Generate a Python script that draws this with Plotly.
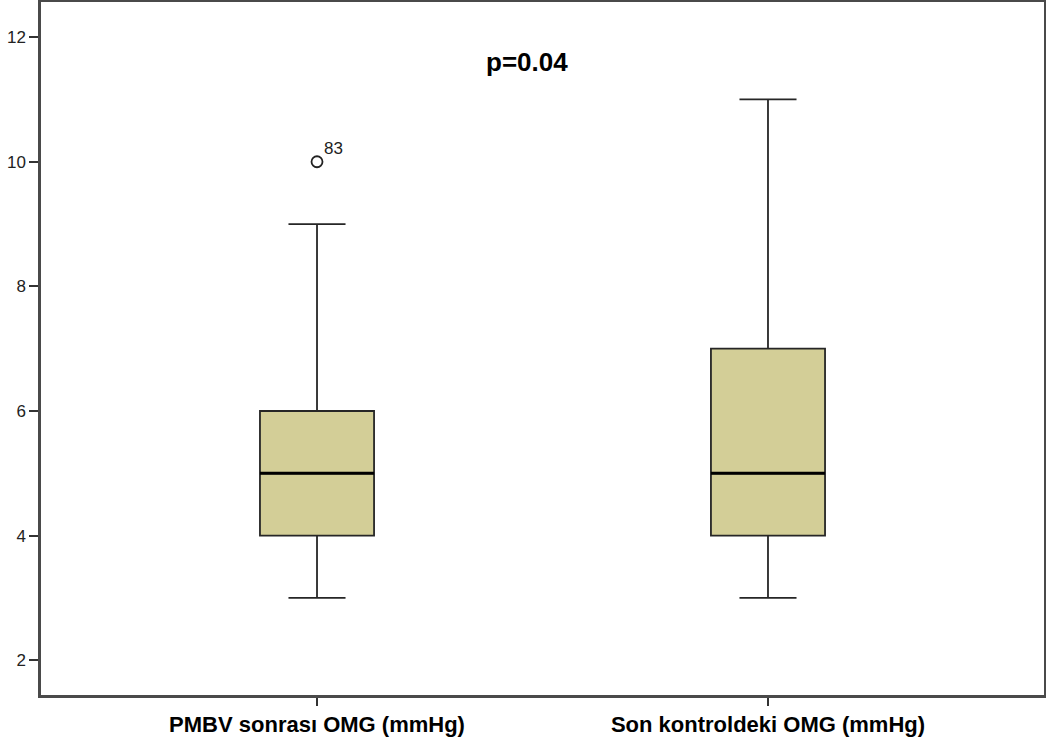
import plotly.graph_objects as go

categories = ["PMBV sonrası OMG (mmHg)", "Son kontroldeki OMG (mmHg)"]
q1 = [4, 4]
median = [5, 5]
q3 = [6, 7]
lower = [3, 3]
upper = [9, 11]
outlier_values = [10]
outlier_labels = ["83"]
outlier_group = [0]
y_ticks = [2, 4, 6, 8, 10, 12]
annotation_text = "p=0.04"

xpos = list(range(len(categories)))
box_w = 0.253
FONT = "Liberation Sans, Arial, sans-serif"

fig = go.Figure()
fig.add_trace(go.Box(
    x=xpos, q1=q1, median=median, q3=q3, lowerfence=lower, upperfence=upper,
    width=box_w, whiskerwidth=0.5, fillcolor="#D3CE97",
    line=dict(color="#262626", width=1.8), boxpoints=False, showlegend=False,
    hoverinfo="skip",
))
# Thicker black median lines
for i, m in enumerate(median):
    fig.add_trace(go.Scatter(
        x=[xpos[i] - box_w / 2, xpos[i] + box_w / 2], y=[m, m], mode="lines",
        line=dict(color="black", width=3), showlegend=False, hoverinfo="skip",
    ))
# Outlier
fig.add_trace(go.Scatter(
    x=[xpos[g] for g in outlier_group], y=outlier_values, mode="markers",
    marker=dict(symbol="circle-open", size=11, color="#222222", line=dict(width=1.8)),
    showlegend=False, hoverinfo="skip",
))
for g, v, lab in zip(outlier_group, outlier_values, outlier_labels):
    fig.add_annotation(
        x=xpos[g], y=v, text=lab, showarrow=False, xanchor="left", yanchor="bottom",
        xshift=5, yshift=2, font=dict(family=FONT, size=17, color="#222222"),
    )

fig.add_annotation(
    x=0.485, xref="paper", y=11.6, yref="y", text="<b>" + annotation_text + "</b>",
    showarrow=False, font=dict(family=FONT, size=26, color="black"),
)

fig.update_layout(
    width=1046, height=740,
    margin=dict(l=41, r=2, t=2, b=45),
    plot_bgcolor="white", paper_bgcolor="white",
    font=dict(family=FONT, color="#222222"),
)
fig.update_xaxes(
    range=[-0.612, 1.612], tickvals=xpos,
    ticktext=["<b>" + c + "</b>" for c in categories],
    tickfont=dict(family=FONT, size=22, color="black"),
    showgrid=False, zeroline=False, showline=True, linecolor="#4a4a4a", linewidth=2.5,
    mirror=True, ticks="outside", ticklen=8, tickwidth=1.5, tickcolor="#333333",
    automargin=False,
)
fig.update_yaxes(
    range=[1.442, 12.564], tickvals=y_ticks,
    tickfont=dict(family=FONT, size=17, color="#222222"),
    showgrid=False, zeroline=False, showline=True, linecolor="#4a4a4a", linewidth=2.5,
    mirror=True, ticks="outside", ticklen=9, tickwidth=1.5, tickcolor="#333333",
    automargin=False,
)

fig.write_html("out.html")
